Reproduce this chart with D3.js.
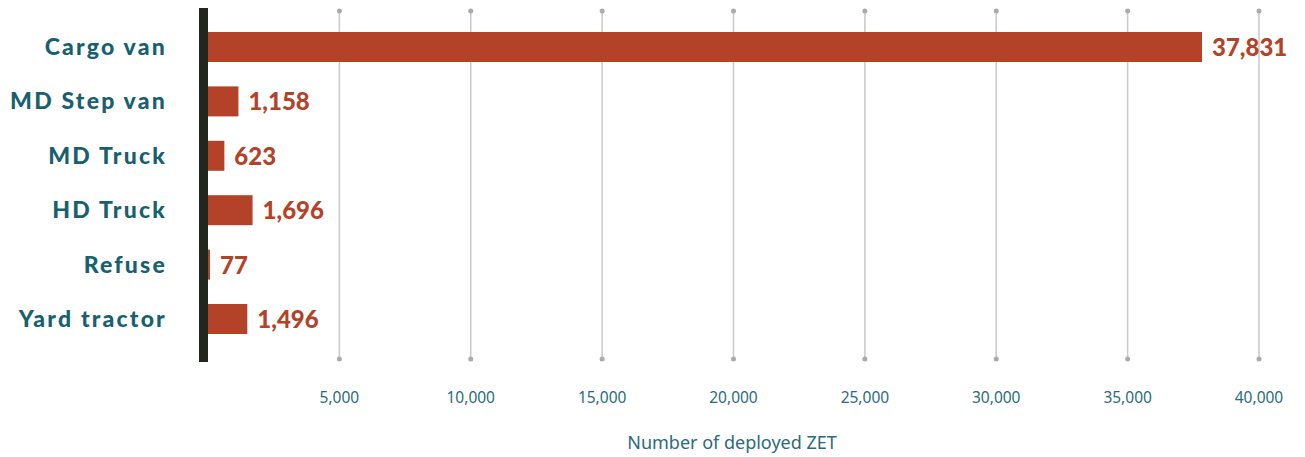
<!DOCTYPE html>
<html lang="en">
<head>
<meta charset="utf-8">
<title>Deployed ZET</title>
<script src="https://d3js.org/d3.v7.min.js"></script>
<style>
  body { margin: 0; background: #fff; }
  .cat { font-family: Lato, sans-serif; font-weight: 900; font-size: 23px; letter-spacing: 2.2px; fill: #17606f; }
  .val { font-family: Lato, sans-serif; font-weight: 900; font-size: 24px; fill: #b34228; }
  .tick-label { font-family: "Noto Sans", sans-serif; font-size: 15.5px; fill: #2a6b7c; }
  .axis-title { font-family: "Noto Sans", sans-serif; font-size: 18px; fill: #2a6b7c; }
</style>
</head>
<body>
<div id="chart"></div>
<script>
const categories = ["Cargo van", "MD Step van", "MD Truck", "HD Truck", "Refuse", "Yard tractor"];
const values = [37831, 1158, 623, 1696, 77, 1496];
const tickValues = [5000, 10000, 15000, 20000, 25000, 30000, 35000, 40000];

const width = 1305, height = 457;
const barH = 30;

const svg = d3.select("#chart").append("svg")
  .attr("width", width).attr("height", height);

const x = d3.scaleLinear().domain([0, 40000]).range([208, 1259]);
const y = d3.scalePoint().domain(categories).range([47, 319]);

// gridlines with end dots
const grid = svg.append("g");
tickValues.forEach(t => {
  grid.append("line")
    .attr("x1", x(t)).attr("x2", x(t))
    .attr("y1", 11).attr("y2", 359)
    .attr("stroke", "#c9c9c9").attr("stroke-width", 1.5);
  grid.append("circle").attr("cx", x(t)).attr("cy", 11).attr("r", 2.5).attr("fill", "#ababab");
  grid.append("circle").attr("cx", x(t)).attr("cy", 359).attr("r", 2.5).attr("fill", "#ababab");
  grid.append("text").attr("class", "tick-label")
    .attr("x", x(t)).attr("y", 403).attr("text-anchor", "middle")
    .text(d3.format(",")(t));
});

// dark baseline
svg.append("rect")
  .attr("x", 199).attr("y", 8)
  .attr("width", 9).attr("height", 354)
  .attr("fill", "#22261e");

// bars
svg.append("g").selectAll("rect")
  .data(values)
  .enter().append("rect")
  .attr("x", x(0))
  .attr("y", (d, i) => y(categories[i]) - barH / 2)
  .attr("width", d => x(d) - x(0))
  .attr("height", barH)
  .attr("fill", "#b34228");

// value labels
svg.append("g").selectAll("text")
  .data(values)
  .enter().append("text")
  .attr("class", "val")
  .attr("x", d => x(d) + 10)
  .attr("y", (d, i) => y(categories[i]) + 9)
  .text(d => d3.format(",")(d));

// category labels
svg.append("g").selectAll("text")
  .data(categories)
  .enter().append("text")
  .attr("class", "cat")
  .attr("x", 167)
  .attr("y", d => y(d) + 8)
  .attr("text-anchor", "end")
  .text(d => d);

svg.append("text").attr("class", "axis-title")
  .attr("x", 732).attr("y", 449).attr("text-anchor", "middle")
  .text("Number of deployed ZET");
</script>
</body>
</html>
